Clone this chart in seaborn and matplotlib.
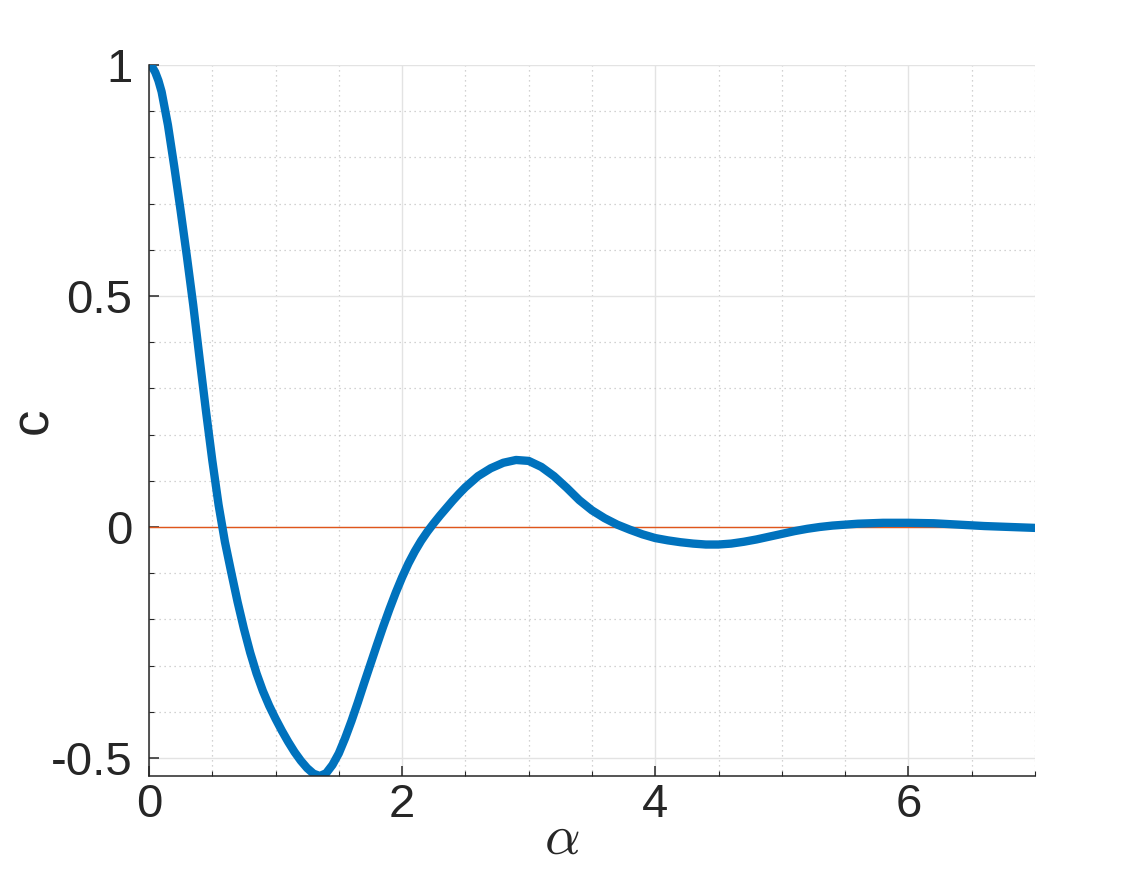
import numpy as np
import matplotlib
matplotlib.use("Agg")
import matplotlib.pyplot as plt
import seaborn as sns
from matplotlib.ticker import MultipleLocator

# values
alpha = [0.0, 0.025, 0.05, 0.075, 0.1, 0.15, 0.2, 0.25, 0.3, 0.35, 0.4, 0.45,
         0.5, 0.55, 0.6, 0.65, 0.7, 0.75, 0.8, 0.85, 0.9, 0.95, 1.0, 1.05,
         1.1, 1.15, 1.2, 1.25, 1.3, 1.35, 1.4, 1.45, 1.5, 1.55, 1.6, 1.65,
         1.7, 1.75, 1.8, 1.85, 1.9, 1.95, 2.0, 2.05, 2.1, 2.15, 2.2, 2.25,
         2.3, 2.35, 2.4, 2.45, 2.5, 2.6, 2.7, 2.8, 2.9, 3.0, 3.1, 3.2, 3.3,
         3.4, 3.5, 3.6, 3.7, 3.8, 3.9, 4.0, 4.1, 4.2, 4.3, 4.4, 4.5, 4.6,
         4.7, 4.8, 4.9, 5.0, 5.1, 5.2, 5.3, 5.4, 5.6, 5.8, 6.0, 6.2, 6.4,
         6.6, 6.8, 7.0]
c = [1.0, 0.996, 0.984, 0.966, 0.942, 0.87, 0.78, 0.685, 0.585, 0.48, 0.365,
     0.252, 0.145, 0.048, -0.032, -0.098, -0.162, -0.22, -0.272, -0.317,
     -0.355, -0.387, -0.415, -0.441, -0.465, -0.487, -0.506, -0.522, -0.534,
     -0.539, -0.533, -0.515, -0.49, -0.457, -0.42, -0.38, -0.338, -0.297,
     -0.256, -0.216, -0.178, -0.142, -0.109, -0.079, -0.053, -0.03, -0.01,
     0.008, 0.025, 0.041, 0.057, 0.072, 0.086, 0.11, 0.127, 0.139, 0.145,
     0.143, 0.13, 0.11, 0.085, 0.058, 0.036, 0.019, 0.005, -0.006, -0.016,
     -0.024, -0.029, -0.033, -0.036, -0.038, -0.038, -0.036, -0.032, -0.027,
     -0.021, -0.015, -0.009, -0.004, 0.0, 0.003, 0.007, 0.009, 0.009, 0.008,
     0.005, 0.002, 0.0, -0.002]
x_ticks = [0, 2, 4, 6]
y_ticks = [-0.5, 0, 0.5, 1]
y_tick_labels = ["-0.5", "0", "0.5", "1"]

sns.set_style("white")
plt.rcParams['font.family'] = ['Liberation Sans', 'DejaVu Sans']
plt.rcParams['mathtext.fontset'] = 'cm'

fig = plt.figure(figsize=(11.44, 8.72), dpi=100)
ax = fig.add_axes([0.1302, 0.1101, 0.7745, 0.8154])

sns.lineplot(x=alpha, y=c, ax=ax, color='#0072BD', linewidth=6.0, sort=False,
             solid_joinstyle='round', solid_capstyle='round')
ax.axhline(0, color='#E0561B', linewidth=1.0, zorder=1.5)

ax.set_xlim(0, 7)
ax.set_ylim(min(c), max(c))

ax.set_xticks(x_ticks)
ax.set_yticks(y_ticks)
ax.set_yticklabels(y_tick_labels)
ax.xaxis.set_minor_locator(MultipleLocator(0.5))
ax.yaxis.set_minor_locator(MultipleLocator(0.1))

ax.grid(which='major', color='#e3e3e3', linewidth=1.0, linestyle='-')
ax.grid(which='minor', color='#c4c4c4', linewidth=0.9, linestyle=(0, (1, 3)))
ax.set_axisbelow(True)

for side in ['top', 'right']:
    ax.spines[side].set_visible(False)
for side in ['left', 'bottom']:
    ax.spines[side].set_color('#262626')
    ax.spines[side].set_linewidth(1.1)

ax.tick_params(which='major', direction='in', length=7, width=1.1,
               color='#262626', labelsize=34, labelcolor='#262626', pad=12)
ax.tick_params(axis='x', which='major', pad=5)
ax.tick_params(which='minor', direction='in', length=3.5, width=0.8,
               color='#262626')
ax.tick_params(axis='y', which='both', left=True)
ax.tick_params(axis='x', which='both', bottom=True)

ax.set_xlabel(r'$\alpha$', fontsize=40, color='#262626', va='center')
ax.xaxis.set_label_coords(0.466, -0.09)
ax.set_ylabel('c', fontsize=38, color='#262626', va='center')
ax.yaxis.set_label_coords(-0.131, 0.499)

plt.savefig("out.png", dpi=100)
